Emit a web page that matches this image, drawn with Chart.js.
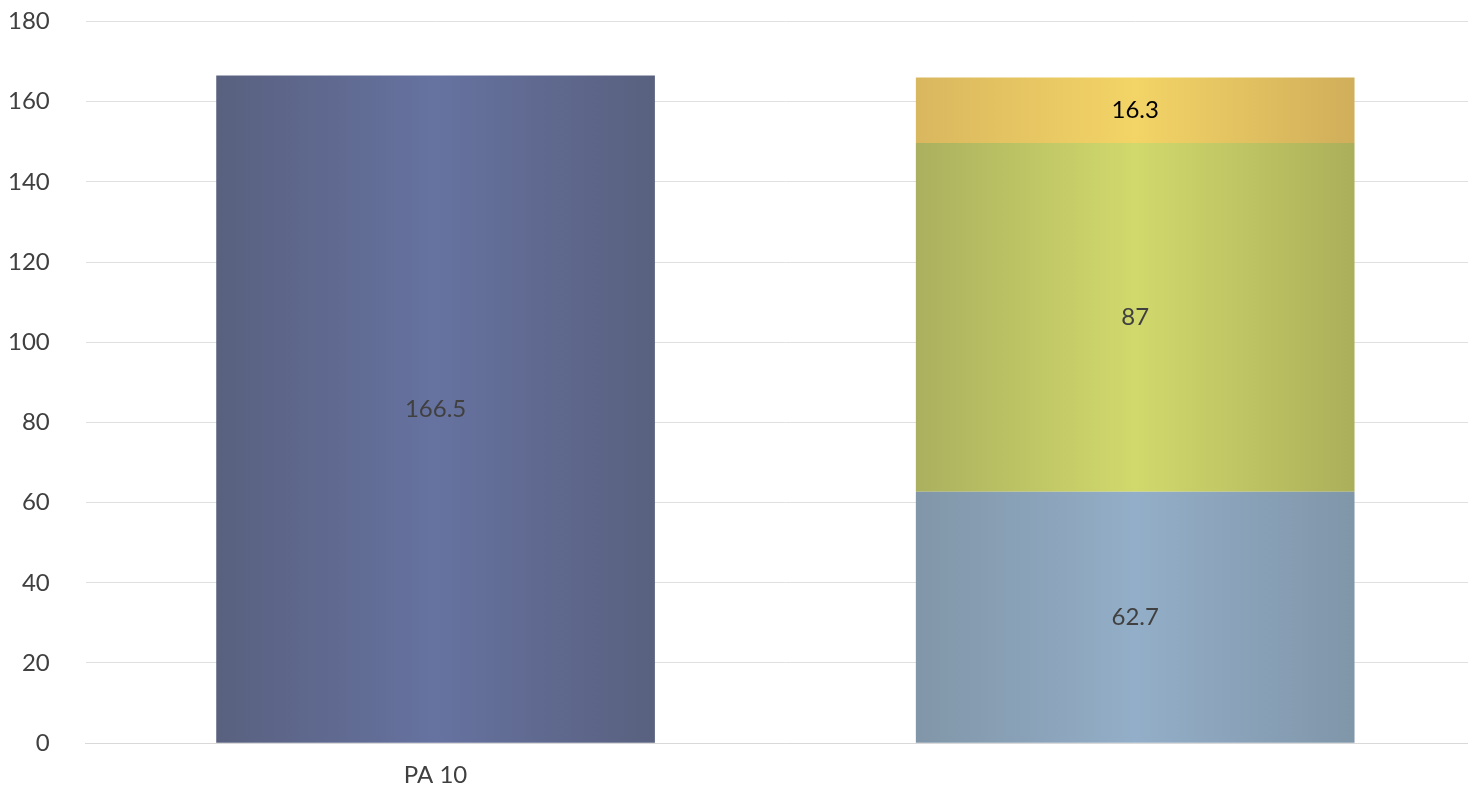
<!DOCTYPE html>
<html>
<head>
<meta charset="utf-8">
<script src="https://cdn.jsdelivr.net/npm/chart.js@4.4.1/dist/chart.umd.min.js"></script>
<style>
html,body{margin:0;padding:0;background:#fff;overflow:hidden;width:1468px;height:796px;}
#wrap{width:1485px;height:831px;position:absolute;left:0;top:-29px;}
</style>
</head>
<body>
<div id="wrap"><canvas id="c"></canvas></div>
<script>
const categories = ["PA 10", ""];
const seriesA = [166.5, null];
const seriesB = [null, 62.7];
const seriesC = [null, 87];
const seriesD = [null, 16.3];
const yTicks = [0, 20, 40, 60, 80, 100, 120, 140, 160, 180];

const palettes = {
  A: ["#59617f", "#6672a0", "#59617f"],
  B: ["#8196a8", "#93aec8", "#8096a9"],
  C: ["#aab05e", "#d1d96c", "#abaf5a"],
  D: ["#d9b75f", "#f3d466", "#d0ae5b"]
};
const BAR_PCT = 0.627;

function grad(key) {
  return function(ctx) {
    const chart = ctx.chart;
    const ca = chart.chartArea;
    if (!ca) return palettes[key][1];
    const x = chart.scales.x;
    const i = ctx.dataIndex;
    const half = (x.getPixelForValue(1) - x.getPixelForValue(0)) * BAR_PCT / 2;
    const cx = x.getPixelForValue(i);
    const g = chart.ctx.createLinearGradient(cx - half, 0, cx + half, 0);
    const p = palettes[key];
    g.addColorStop(0, p[0]);
    g.addColorStop(0.5, p[1]);
    g.addColorStop(1, p[2]);
    return g;
  };
}

const labelColors = ["#404040", "#404040", "#404040", "#000000"];
const FONT = "Lato, 'Open Sans', sans-serif";

const valueLabels = {
  id: "valueLabels",
  afterDatasetsDraw(chart) {
    const ctx = chart.ctx;
    ctx.save();
    ctx.font = "24px " + FONT;
    ctx.textAlign = "center";
    ctx.textBaseline = "middle";
    chart.data.datasets.forEach((ds, di) => {
      const meta = chart.getDatasetMeta(di);
      meta.data.forEach((el, i) => {
        const v = ds.data[i];
        if (v === null || v === undefined) return;
        ctx.fillStyle = labelColors[di];
        const y = (el.y + el.base) / 2;
        ctx.fillText(String(v), el.x, y);
      });
    });
    ctx.restore();
  }
};

new Chart(document.getElementById("c"), {
  type: "bar",
  data: {
    labels: categories,
    datasets: [
      { data: seriesA, backgroundColor: grad("A") },
      { data: seriesB, backgroundColor: grad("B") },
      { data: seriesC, backgroundColor: grad("C") },
      { data: seriesD, backgroundColor: grad("D") }
    ]
  },
  options: {
    responsive: true,
    maintainAspectRatio: false,
    animation: false,
    layout: { padding: { top: -16, left: -28, right: 0, bottom: -6 } },
    datasets: { bar: { barPercentage: BAR_PCT, categoryPercentage: 1, skipNull: false } },
    plugins: { legend: { display: false }, tooltip: { enabled: false } },
    scales: {
      x: {
        stacked: true,
        grid: { display: false, drawTicks: false },
        border: { display: true, color: "#d9d9d9", width: 1 },
        ticks: { color: "#404040", font: { size: 24, family: FONT }, padding: 18 }
      },
      y: {
        stacked: true,
        min: 0, max: 180,
        afterBuildTicks(axis) { axis.ticks = yTicks.map(v => ({ value: v })); },
        grid: { color: "#e0e0e0", lineWidth: 1, drawTicks: false },
        border: { display: false },
        ticks: { color: "#404040", font: { size: 24, family: FONT }, padding: 36 }
      }
    }
  },
  plugins: [valueLabels]
});
</script>
</body>
</html>
